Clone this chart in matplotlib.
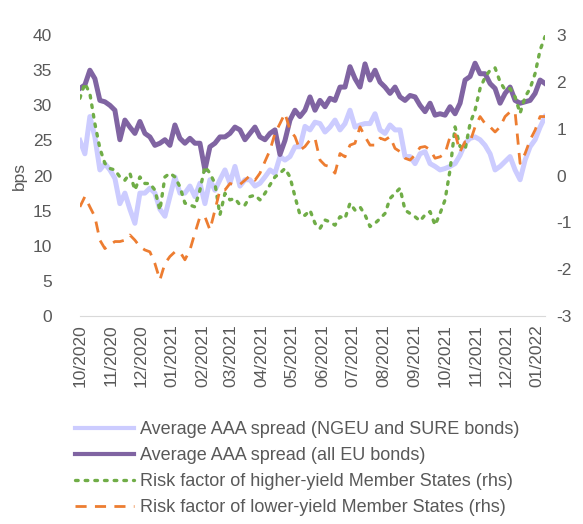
import pandas as pd
import matplotlib
matplotlib.use("Agg")
import matplotlib.pyplot as plt
import matplotlib.dates as mdates

plt.rcParams["font.family"] = ["Liberation Sans", "DejaVu Sans"]
plt.rcParams["axes.unicode_minus"] = False

# Data (roughly every 5 days)

dates = pd.date_range("2020-10-01", periods=94, freq="5D")

ngeu_sure = [
    25.0, 23.1, 28.4, 25.5, 20.8, 21.7, 20.8, 19.6, 16.0, 17.5, 15.2, 13.2,
    17.5, 17.5, 18.2, 17.5, 15.2, 14.2, 17.0, 19.8, 17.5, 17.5, 18.5, 17.0,
    18.9, 16.0, 19.4, 17.9, 19.4, 20.8, 18.9, 21.3, 18.5, 19.4, 19.4, 18.5,
    18.9, 19.8, 20.8, 20.3, 22.7, 22.2, 22.7, 24.1, 24.1, 27.0,
    26.5, 27.6, 27.4, 26.2, 26.9, 27.9, 26.5, 27.4, 29.3, 26.9, 27.2, 27.4,
    27.4, 28.8, 26.5, 26.0, 27.2, 26.5, 26.5, 22.7, 22.7, 21.7, 23.1,
    23.4, 21.7, 21.3, 20.8, 21.0, 21.3, 21.7, 22.9, 24.6, 25.3, 25.5, 25.1,
    24.3, 23.1, 20.8, 21.3, 22.0, 22.7, 20.8, 19.4, 22.2, 24.1, 25.1, 26.9,
    28.4,
]

all_eu = [
    32.4, 32.9, 35.0, 33.8, 30.7, 30.5, 30.0, 29.3, 25.1, 27.9, 26.9, 26.0,
    27.7, 26.0, 25.5, 24.3, 24.6, 25.1, 24.3, 27.2, 25.3, 24.6, 25.3, 24.6,
    24.6, 20.8, 24.1, 24.6, 25.5, 25.5, 26.0, 26.9, 26.5, 25.1, 26.0, 26.9,
    25.5, 25.1, 26.0, 26.5, 23.0, 25.0, 27.9, 29.3, 28.4, 29.3,
    31.2, 29.3, 30.7, 29.8, 31.0, 30.7, 32.6, 32.6, 35.5, 33.8, 32.6, 35.9,
    33.6, 35.0, 33.3, 32.6, 31.7, 32.6, 31.2, 30.7, 31.4, 31.2, 30.0,
    29.1, 30.3, 28.6, 28.8, 28.6, 29.8, 28.8, 30.3, 33.6, 34.1, 36.0, 34.5,
    34.5, 33.1, 32.4, 30.3, 31.7, 32.6, 30.7, 30.3, 30.5, 30.7, 31.7, 33.6,
    33.1,
]

higher_yield = [
    1.65, 1.97, 1.75, 1.11, 0.58, 0.26, 0.15, 0.12, -0.03, -0.10, 0.05, -0.31,
    -0.03, -0.17, -0.17, -0.31, -0.74, -0.03, 0.05, -0.03, -0.24, -0.59, -0.63, -0.67,
    -0.31, 0.19, 0.05, -0.17, -0.84, -0.38, -0.52, -0.49, -0.63, -0.63, -0.45, -0.42,
    -0.52, -0.38, -0.20, -0.03, 0.05, 0.15, -0.03, -0.45, -0.84, -0.85,
    -0.74, -1.02, -1.13, -0.95, -0.99, -1.06, -0.88, -0.92, -0.59, -0.74, -0.67, -0.84,
    -1.09, -1.02, -0.92, -0.81, -0.49, -0.38, -0.27, -0.74, -0.81, -0.88, -0.97,
    -0.84, -0.77, -1.06, -0.81, -0.52, 0.12, 1.04, 0.62, 0.55, 1.11, 1.40, 1.86,
    2.10, 2.25, 2.30, 2.00, 1.83, 1.86, 1.68, 1.33, 1.68, 1.86, 2.18, 2.68,
    2.97,
]

lower_yield = [
    -0.67, -0.45, -0.67, -0.88, -1.38, -1.56, -1.48, -1.41, -1.41, -1.38, -1.27, -1.38,
    -1.52, -1.59, -1.63, -1.88, -2.23, -1.88, -1.73, -1.63, -1.63, -1.80, -1.59, -1.23,
    -0.88, -0.88, -1.16, -0.74, -0.31, -0.31, -0.17, -0.20, -0.19, -0.10, 0.00, -0.10,
    0.05, 0.30, 0.54, 0.90, 1.11, 1.33, 0.97, 0.83, 0.54, 0.62,
    0.76, 0.80, 0.33, 0.22, 0.19, 0.05, 0.47, 0.40, 0.65, 0.69, 1.04, 0.83,
    0.65, 0.65, 0.80, 0.76, 0.83, 0.58, 0.51, 0.37, 0.33, 0.44, 0.60,
    0.62, 0.55, 0.37, 0.40, 0.47, 0.83, 0.90, 0.51, 0.72, 0.72, 1.04, 1.26,
    1.11, 1.04, 0.93, 1.04, 1.26, 1.36, 1.36, 0.26, 0.47, 0.76, 0.97, 1.26,
    1.26,
]

labels = [
    "Average AAA spread (NGEU and SURE bonds)",
    "Average AAA spread (all EU bonds)",
    "Risk factor of higher-yield Member States (rhs)",
    "Risk factor of lower-yield Member States (rhs)",
]

text_color = "#595959"

fig = plt.figure(figsize=(5.83, 5.24), dpi=100)
ax = fig.add_axes([0.137, 0.397, 0.798, 0.536])
ax2 = ax.twinx()

l1, = ax.plot(dates, ngeu_sure, color="#ccccff", lw=3.6, label=labels[0])
l2, = ax.plot(dates, all_eu, color="#8064a2", lw=3.6, label=labels[1])
l3, = ax2.plot(dates, higher_yield, color="#70ad47", lw=2.4,
               linestyle=(0, (0.8, 2.1)), dash_capstyle="round", label=labels[2])
l4, = ax2.plot(dates, lower_yield, color="#ed7d31", lw=2.0,
               linestyle=(0, (4, 3)), label=labels[3])

ax.set_ylim(0, 40)
ax.set_yticks(range(0, 41, 5))
ax2.set_ylim(-3, 3)
ax2.set_yticks(range(-3, 4))
ax.set_xlim(pd.Timestamp("2020-10-01"), pd.Timestamp("2022-01-09"))

ax.xaxis.set_major_locator(mdates.MonthLocator())
ax.xaxis.set_major_formatter(mdates.DateFormatter("%m/%Y"))
for lab in ax.get_xticklabels():
    lab.set_rotation(90)

for a in (ax, ax2):
    for s in a.spines.values():
        s.set_visible(False)
    a.tick_params(length=0, labelsize=12.5, colors=text_color)
ax.spines["bottom"].set_visible(True)
ax.spines["bottom"].set_color("#d9d9d9")
ax.tick_params(axis="x", pad=6)
ax.tick_params(axis="y", pad=20)
ax2.tick_params(axis="y", pad=8)

ax.set_ylabel("bps", fontsize=12.5, color=text_color, labelpad=4)

leg = fig.legend(
    handles=[l1, l2, l3, l4],
    loc="upper left",
    bbox_to_anchor=(0.116, 0.21),
    frameon=False,
    fontsize=13,
    handlelength=3.3,
    labelspacing=0.5,
    handletextpad=0.3,
    borderaxespad=0,
)
for t in leg.get_texts():
    t.set_color(text_color)
for h in leg.legend_handles[:2]:
    h.set_linewidth(3.0)

fig.savefig("out.png", dpi=100)
